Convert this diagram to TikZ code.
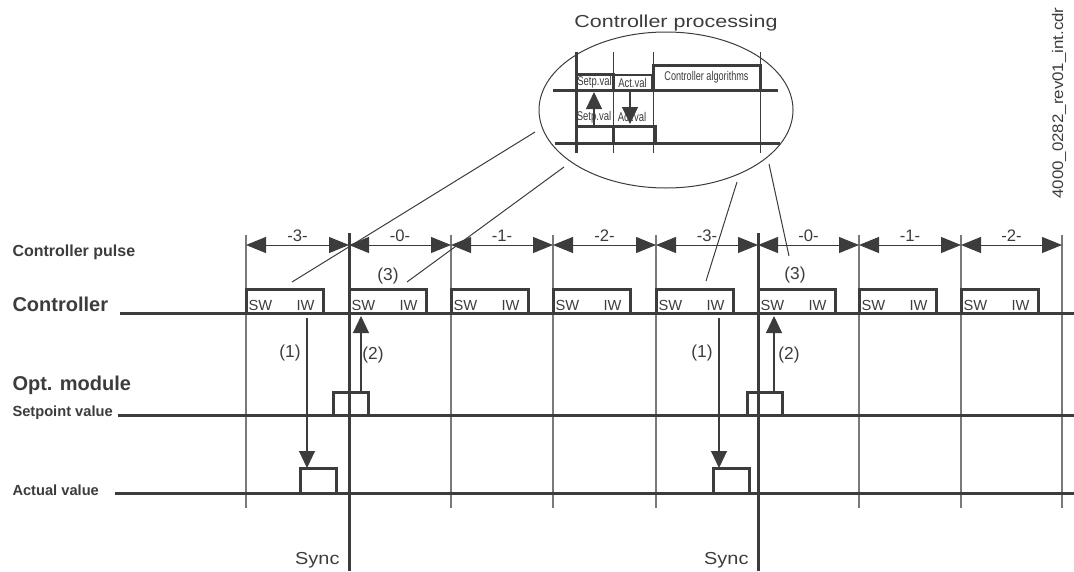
\documentclass[tikz,border=0pt]{standalone}
\usepackage{fontspec}
\setmainfont{Liberation Sans}
\usetikzlibrary{arrows.meta,shapes.geometric}
\definecolor{ink}{HTML}{3C3C3C}
\definecolor{gridgray}{HTML}{7A7A7A}
\newcommand{\xsq}[2]{\scalebox{#1}[1]{#2}}
\tikzset{every picture/.style={line width=0.75pt}}
\tikzset{
  thickline/.style={draw=ink, line width=2.25pt},
  gridline/.style={draw=gridgray, line width=0.8pt},
  dimline/.style={draw=ink, line width=0.75pt, {Triangle[length=15pt,width=12pt]}-{Triangle[length=15pt,width=12pt]}},
  flow/.style={draw=ink, line width=0.8pt, -{Triangle[length=12.75pt,width=12pt]}},
  ctrlbox/.style={draw=ink, line width=2.25pt, inner sep=0pt, outer sep=0pt, anchor=south west,
    minimum width=57.75pt, minimum height=18pt},
  valbox/.style={draw=ink, line width=2.25pt, inner sep=0pt, outer sep=0pt, anchor=south west},
  lbl/.style={text=ink, inner sep=0pt, anchor=base west},
  txt/.style={text=ink, inner sep=0pt}
}
\begin{document}
\begin{tikzpicture}[x=0.75pt,y=0.75pt,yscale=-1,xscale=1]
\useasboundingbox (0,0) rectangle (1074,571);

%Labels on the left
\node [lbl, font=\fontsize{12}{14}\selectfont\bfseries] (pulse) at (12,256) {Controller pulse};
\node [lbl, font=\fontsize{15}{18}\selectfont\bfseries] (ctrl) at (12,311) {Controller};
\node [lbl, font=\fontsize{15}{18}\selectfont\bfseries] (opt) at (12,390) {Opt. module};
\node [lbl, font=\fontsize{11}{13}\selectfont\bfseries] (setp) at (12,416) {Setpoint value};
\node [lbl, font=\fontsize{11}{13}\selectfont\bfseries] (act) at (12,495) {Actual value};

%Grid lines
\foreach \x in {246,451,553,656,859,961,1062}
  \draw [gridline] (\x,235) -- (\x,508) ;
%Sync lines
\foreach \x in {349,758}
  \draw [thickline] (\x,233) -- (\x,571) ;
\node [txt, anchor=base east, font=\fontsize{13}{15}\selectfont] (sync1) at (340,564) {\xsq{1.15}{Sync}};
\node [txt, anchor=base east, font=\fontsize{13}{15}\selectfont] (sync2) at (749,564) {\xsq{1.15}{Sync}};

%Time lines
\draw [thickline] (120,313) -- (1074,313) ;
\draw [thickline] (118,415) -- (1074,415) ;
\draw [thickline] (115,493) -- (1074,493) ;

%Controller pulse
\foreach \xa/\xb/\lab [count=\i] in {246/349/-3-,349/451/-0-,451/553/-1-,553/656/-2-,656/758/-3-,758/859/-0-,859/961/-1-,961/1062/-2-}
{
  \draw [dimline] (\xa,245) -- (\xb,245) ;
  \node [txt, font=\fontsize{12.5}{14}\selectfont] (p\i) at ({(\xa+\xb)/2},236) {\lab};
}

%Controller boxes
\foreach \x [count=\i] in {246,349,451,553,656,758,859,961}
{
  \node [ctrlbox] (c\i) at (\x,313) {};
  \node [txt, anchor=base west, font=\fontsize{11}{12}\selectfont] (sw\i) at ([xshift=1.5pt,yshift=-2pt]c\i.south west) {SW};
  \node [txt, anchor=base east, font=\fontsize{11}{12}\selectfont] (iw\i) at ([xshift=-6pt,yshift=-2pt]c\i.south east) {IW};
}

%Opt. module boxes
\node [valbox, minimum width=26.25pt, minimum height=17.25pt] (sp1) at (333,415) {};
\node [valbox, minimum width=26.25pt, minimum height=17.25pt] (sp2) at (747,415) {};
\node [valbox, minimum width=27pt, minimum height=18.75pt] (av1) at (300,493) {};
\node [valbox, minimum width=27pt, minimum height=18.75pt] (av2) at (713,493) {};

%Data transfer
\coordinate (o1) at (307,318) ;
\coordinate (o2) at (719,318) ;
\coordinate (i1) at (361,316) ;
\coordinate (i2) at (774,316) ;
\draw [flow] (o1) -- ([xshift=5.25pt]av1.north west) ;
\draw [flow] (o2) -- ([xshift=4.5pt]av2.north west) ;
\draw [flow] ([xshift=21pt]sp1.north west) -- (i1) ;
\draw [flow] ([xshift=20.25pt]sp2.north west) -- (i2) ;
\node [txt, font=\fontsize{13}{15}\selectfont] (n1a) at (290,353) {(1)};
\node [txt, font=\fontsize{13}{15}\selectfont] (n2a) at (373,355) {(2)};
\node [txt, font=\fontsize{13}{15}\selectfont] (n3a) at (388,276) {(3)};
\node [txt, font=\fontsize{13}{15}\selectfont] (n1b) at (702,353) {(1)};
\node [txt, font=\fontsize{13}{15}\selectfont] (n2b) at (789,355) {(2)};
\node [txt, font=\fontsize{13}{15}\selectfont] (n3b) at (795,275) {(3)};

%Controller processing (detail)
\node [draw=ink, line width=0.75pt, ellipse, inner sep=0pt, minimum width=190.5pt, minimum height=117pt] (proc) at (666,110) {};
\node [txt, anchor=base, font=\fontsize{13}{15}\selectfont] (title) at (676,27) {\xsq{1.24}{Controller processing}};

%Straight Lines to detail
\coordinate (a1) at (292,282) ; \coordinate (a2) at (535,132) ;
\coordinate (b1) at (407,282) ; \coordinate (b2) at (564,167) ;
\coordinate (d1) at (706,281) ; \coordinate (d2) at (737,182) ;
\coordinate (e1) at (789,256) ; \coordinate (e2) at (769,164) ;
\draw [draw=ink] (a1) -- (a2) ;
\draw [draw=ink] (b1) -- (b2) ;
\draw [draw=ink] (d1) -- (d2) ;
\draw [draw=ink] (e1) -- (e2) ;

%Detail grid
\draw [thickline] (576,52) -- (576,153) ;
\foreach \x in {613,653,760}
  \draw [draw=ink] (\x,52) -- (\x,153) ;
\draw [thickline] (553,90) -- (778,90) ;
\draw [thickline] (555,143) -- (780,143) ;

%Detail boxes
\node [valbox, minimum width=27.75pt, minimum height=12pt] (dsv) at (576,90) {};
\node [valbox, line width=1.5pt, minimum width=29.25pt, minimum height=11.25pt] (dav) at (613,90) {};
\node [valbox, minimum width=80.25pt, minimum height=18.75pt] (dalg) at (653,90) {};
\node [valbox, minimum width=27.75pt, minimum height=12.75pt] (dsv2) at (576,143) {};
\node [valbox, minimum width=31.5pt, minimum height=12.75pt] (dav2) at (613,143) {};
\node [txt, font=\fontsize{9.5}{10}\selectfont] at (dsv) {\xsq{0.75}{Setp.val}};
\node [txt, font=\fontsize{9.5}{10}\selectfont] at (dav) {\xsq{0.75}{Act.val}};
\node [txt, font=\fontsize{9.5}{10}\selectfont] at (dalg) {\xsq{0.72}{Controller algorithms}};
\node [txt, font=\fontsize{9.5}{10}\selectfont] (lsv) at (594,117) {\xsq{0.75}{Setp.val}};
\node [txt, font=\fontsize{9.5}{10}\selectfont] (lav) at (632,117) {\xsq{0.75}{Act.val}};
\draw [flow] (dsv2.north -| 594,0) -- (594,92) ;
\draw [flow] (630,90) -- (630,124) ;

%File name
\node [txt, rotate=90, font=\fontsize{11.5}{13}\selectfont] (file) at (1059,103) {\xsq{1.1}{4000\_0282\_rev01\_int.cdr}};
\end{tikzpicture}
\end{document}
